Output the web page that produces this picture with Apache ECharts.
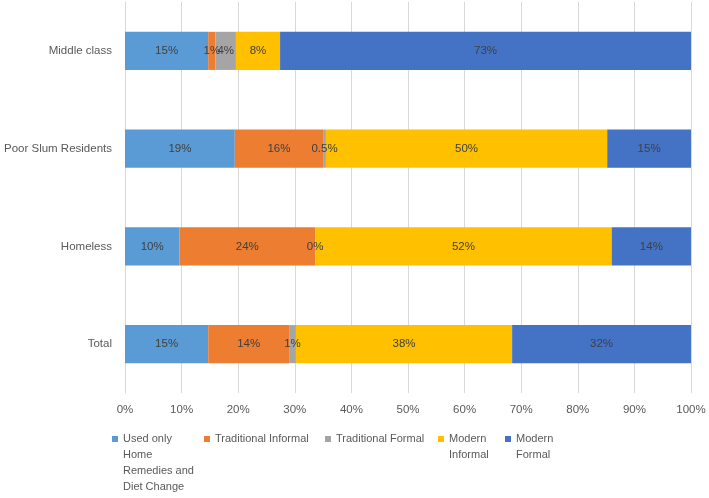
<!DOCTYPE html>
<html>
<head>
<meta charset="utf-8">
<script src="https://cdn.jsdelivr.net/npm/echarts@6/dist/echarts.min.js"></script>
<style>html,body{margin:0;padding:0;background:#fff}#c{width:709px;height:498px}</style>
</head>
<body>
<div id="c"></div>
<script>
const categories = ['Middle class', 'Poor Slum Residents', 'Homeless', 'Total'];
const seriesNames = ['Used only Home Remedies and Diet Change', 'Traditional Informal', 'Traditional Formal', 'Modern Informal', 'Modern Formal'];
const legendLabels = ['Used only\nHome\nRemedies and\nDiet Change', 'Traditional Informal', 'Traditional Formal', 'Modern\nInformal', 'Modern\nFormal'];
const homeRemedies = [14.7, 19.4, 9.6, 14.7];
const tradInformal = [1.3, 15.6, 24.0, 14.3];
const tradFormal = [3.6, 0.5, 0, 1.2];
const modernInformal = [7.8, 49.7, 52.4, 38.2];
const modernFormal = [72.6, 14.8, 14.0, 31.6];
const xTicks = [0, 10, 20, 30, 40, 50, 60, 70, 80, 90, 100];
const colors = ['#5B9BD5', '#ED7D31', '#A5A5A5', '#FFC000', '#4472C4'];

const values = [homeRemedies, tradInformal, tradFormal, modernInformal, modernFormal];
const FONT = 'Liberation Sans';

function fmt(v) {
  if (v > 0 && v < 1) return v.toFixed(1) + '%';
  return Math.round(v) + '%';
}

const legendLeft = [112, 204, 325, 438, 505];
const LH = 16;
const legends = seriesNames.map((n, i) => {
  const lines = legendLabels[i].split('\n');
  const n2 = lines.length;
  const padded = new Array(n2 - 1).fill(' ').concat(lines).join('\n');
  const H = (2 * n2 - 1) * LH;
  return {
    data: [n],
    left: legendLeft[i],
    top: 439 - H / 2,
    orient: 'horizontal',
    padding: 0,
    itemWidth: 6,
    itemHeight: 6,
    icon: 'rect',
    selectedMode: false,
    formatter: () => padded,
    textStyle: { fontFamily: FONT, fontSize: 11, color: '#595959', lineHeight: LH }
  };
});

const chart = echarts.init(document.getElementById('c'));
chart.setOption({
  animation: false,
  color: colors,
  grid: { left: 125, right: 18, top: 2, bottom: 105, containLabel: false, outerBoundsMode: 'none' },
  legend: legends,
  xAxis: {
    type: 'value', min: 0, max: 100, interval: 10,
    axisLabel: { formatter: v => xTicks.includes(v) ? v + '%' : '', fontFamily: FONT, fontSize: 11.5, color: '#595959', margin: 11 },
    splitLine: { lineStyle: { color: '#D9D9D9' } },
    axisLine: { show: false }, axisTick: { show: false }
  },
  yAxis: {
    type: 'category', data: categories, inverse: true,
    axisLabel: { fontFamily: FONT, fontSize: 11.5, color: '#595959', margin: 13 },
    axisLine: { show: true, lineStyle: { color: '#D9D9D9' } },
    axisTick: { show: false }
  },
  series: seriesNames.map((n, i) => ({
    name: n, type: 'bar', stack: 'total', barWidth: '39%',
    data: values[i],
    itemStyle: { color: colors[i] },
    label: {
      show: true, position: 'inside', formatter: p => fmt(p.value),
      fontFamily: FONT, fontSize: 11.5, color: '#404040'
    }
  }))
});
</script>
</body>
</html>
